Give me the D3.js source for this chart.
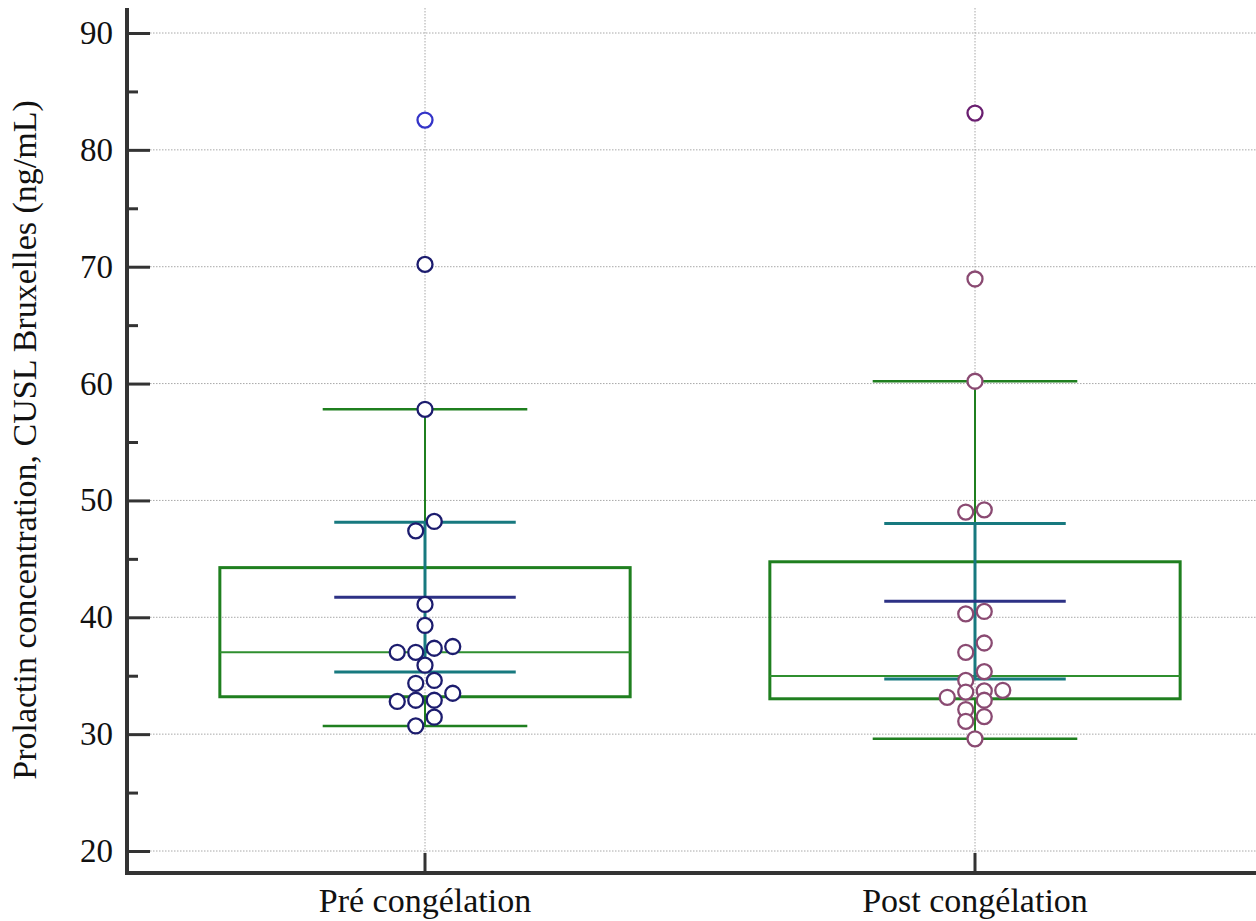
<!DOCTYPE html>
<head>
  <meta charset="utf-8">
  <script src="https://d3js.org/d3.v7.min.js"></script>
  <title>Prolactin pre / post freezing</title>
  <style>
    html, body { margin: 0; background: #fff; }
    svg { display: block; }
    text { font-family: "Liberation Serif", "Times New Roman", serif; fill: #111; }
  </style>
</head>
<body>
<div id="chart"></div>
<script>
  const groups = ["Pré congélation", "Post congélation"];
  const preValues = [82.55, 70.2, 57.8, 48.2, 47.4, 41.1, 39.3, 37.5, 37.35, 37.0, 37.0,
                     35.9, 34.6, 34.35, 33.5, 32.9, 32.9, 32.8, 31.45, 30.7];
  const postValues = [83.15, 68.95, 60.2, 49.2, 49.0, 40.5, 40.3, 37.8, 37.0, 35.35, 34.6,
                      33.75, 33.7, 33.6, 33.15, 32.9, 32.1, 31.5, 31.1, 29.6];
  const yTicks = [20, 30, 40, 50, 60, 70, 80, 90];
  const yMinorTicks = [25, 35, 45, 55, 65, 75, 85];
  const tCrit = 2.093; // t(0.975, df = 19)

  const pointColors = ["#1c1c6e", "#8a4a72"];
  const farOutColors = ["#3434c8", "#6a1f70"];

  const width = 1256, height = 921;
  const left = 127, bottom = 873;

  const svg = d3.select("#chart").append("svg")
      .attr("width", width).attr("height", height);

  const y = d3.scaleLinear().domain([20, 90]).range([851, 33]);
  const x = d3.scaleBand().domain(groups).range([150, 1250]);
  const cx = g => x(g) + x.bandwidth() / 2;

  // summary stats like MedCalc: hinges, tukey whiskers, 95% CI of mean
  function stats(values) {
    const s = values.slice().sort(d3.ascending);
    const n = s.length;
    const q1 = d3.median(s.slice(0, Math.floor(n / 2)));
    const q3 = d3.median(s.slice(Math.ceil(n / 2)));
    const iqr = q3 - q1;
    const mean = d3.mean(s);
    const se = d3.deviation(s) / Math.sqrt(n);
    return {
      q1, q3, median: d3.median(s), mean,
      ciLo: mean - tCrit * se, ciHi: mean + tCrit * se,
      wLo: d3.min(s.filter(v => v >= q1 - 1.5 * iqr)),
      wHi: d3.max(s.filter(v => v <= q3 + 1.5 * iqr)),
      farLo: q1 - 3 * iqr, farHi: q3 + 3 * iqr
    };
  }

  // simple dot-row layout: close values share a row, centred on the category
  function swarm(values, center) {
    const D = 18.5;
    const s = values.slice().sort(d3.descending);
    const rows = [];
    s.forEach(v => {
      const row = rows[rows.length - 1];
      if (row && y(v) - y(row[0]) <= 9.6) row.push(v);
      else rows.push([v]);
    });
    const out = [];
    rows.forEach(row => {
      row.sort(d3.ascending).forEach((v, i) => {
        out.push({ v, x: center + (i - (row.length - 1) / 2) * D, y: y(v) });
      });
    });
    return out;
  }

  // grid
  const grid = svg.append("g")
      .attr("stroke", "#a8a8a8").attr("stroke-width", 1).attr("stroke-dasharray", "1.5,1.5");
  grid.selectAll("line.h").data(yTicks).join("line")
      .attr("x1", 150).attr("x2", width).attr("y1", d => y(d)).attr("y2", d => y(d));
  grid.selectAll("line.v").data(groups).join("line")
      .attr("x1", cx).attr("x2", cx).attr("y1", 8).attr("y2", 853);

  const data = [preValues, postValues];

  groups.forEach((g, i) => {
    const st = stats(data[i]);
    const c = cx(g);
    const bw = x.bandwidth();
    const boxHalf = bw * 0.373, whHalf = bw * 0.186, ciHalf = bw * 0.165;
    const layer = svg.append("g");
    const green = "#1f7f1f";

    // whisker stems
    layer.append("line").attr("x1", c).attr("x2", c)
        .attr("y1", y(st.q3)).attr("y2", y(st.wHi))
        .attr("stroke", green).attr("stroke-width", 2);
    layer.append("line").attr("x1", c).attr("x2", c)
        .attr("y1", y(st.q1)).attr("y2", y(st.wLo))
        .attr("stroke", green).attr("stroke-width", 2);
    // whisker caps
    layer.selectAll("line.cap").data([st.wHi, st.wLo]).join("line")
        .attr("x1", c - whHalf).attr("x2", c + whHalf)
        .attr("y1", d => y(d)).attr("y2", d => y(d))
        .attr("stroke", green).attr("stroke-width", 2.5);
    // box
    layer.append("rect")
        .attr("x", c - boxHalf).attr("width", 2 * boxHalf)
        .attr("y", y(st.q3)).attr("height", y(st.q1) - y(st.q3))
        .attr("fill", "none").attr("stroke", green).attr("stroke-width", 3);
    // median
    layer.append("line").attr("x1", c - boxHalf).attr("x2", c + boxHalf)
        .attr("y1", y(st.median)).attr("y2", y(st.median))
        .attr("stroke", "#2f8f2f").attr("stroke-width", 2);
    // confidence interval of the mean
    layer.append("line").attr("x1", c).attr("x2", c)
        .attr("y1", y(st.ciLo)).attr("y2", y(st.ciHi))
        .attr("stroke", "#17797f").attr("stroke-width", 3);
    layer.selectAll("line.ci").data([st.ciLo, st.ciHi]).join("line")
        .attr("x1", c - ciHalf).attr("x2", c + ciHalf)
        .attr("y1", d => y(d)).attr("y2", d => y(d))
        .attr("stroke", "#17797f").attr("stroke-width", 3);
    // mean
    layer.append("line").attr("x1", c - ciHalf).attr("x2", c + ciHalf)
        .attr("y1", y(st.mean)).attr("y2", y(st.mean))
        .attr("stroke", "#2d3185").attr("stroke-width", 3);

    // points
    layer.selectAll("circle").data(swarm(data[i], c)).join("circle")
        .attr("cx", d => d.x).attr("cy", d => d.y).attr("r", 7.5)
        .attr("fill", "#fff")
        .attr("stroke", d => (d.v > st.farHi || d.v < st.farLo) ? farOutColors[i] : pointColors[i])
        .attr("stroke-width", 2.3);
  });

  // axes
  const yAxis = svg.append("g").attr("transform", `translate(${left},0)`)
      .call(d3.axisLeft(y).tickValues(yTicks).tickSize(-23).tickPadding(14));
  svg.append("g").attr("transform", `translate(${left},0)`)
      .call(d3.axisLeft(y).tickValues(yMinorTicks).tickSize(-11).tickFormat(""));
  const xAxis = svg.append("g").attr("transform", `translate(0,${bottom})`)
      .call(d3.axisBottom(x).tickSize(-20).tickPadding(15));

  svg.selectAll(".domain").remove();
  svg.selectAll(".tick line").attr("stroke", "#333").attr("stroke-width", 3);
  yAxis.selectAll("text").attr("font-size", 33).attr("fill", "#111")
      .attr("font-family", "Liberation Serif");
  xAxis.selectAll("text").attr("font-size", 34).attr("fill", "#111")
      .attr("font-family", "Liberation Serif");

  svg.append("line").attr("x1", left).attr("x2", left).attr("y1", 8).attr("y2", bottom + 2)
      .attr("stroke", "#333").attr("stroke-width", 4);
  svg.append("line").attr("x1", left - 2).attr("x2", width).attr("y1", bottom).attr("y2", bottom)
      .attr("stroke", "#333").attr("stroke-width", 4);

  svg.append("text")
      .attr("transform", `translate(36,440) rotate(-90)`)
      .attr("text-anchor", "middle")
      .attr("font-size", 34)
      .text("Prolactin concentration, CUSL Bruxelles (ng/mL)");
</script>
</body>
